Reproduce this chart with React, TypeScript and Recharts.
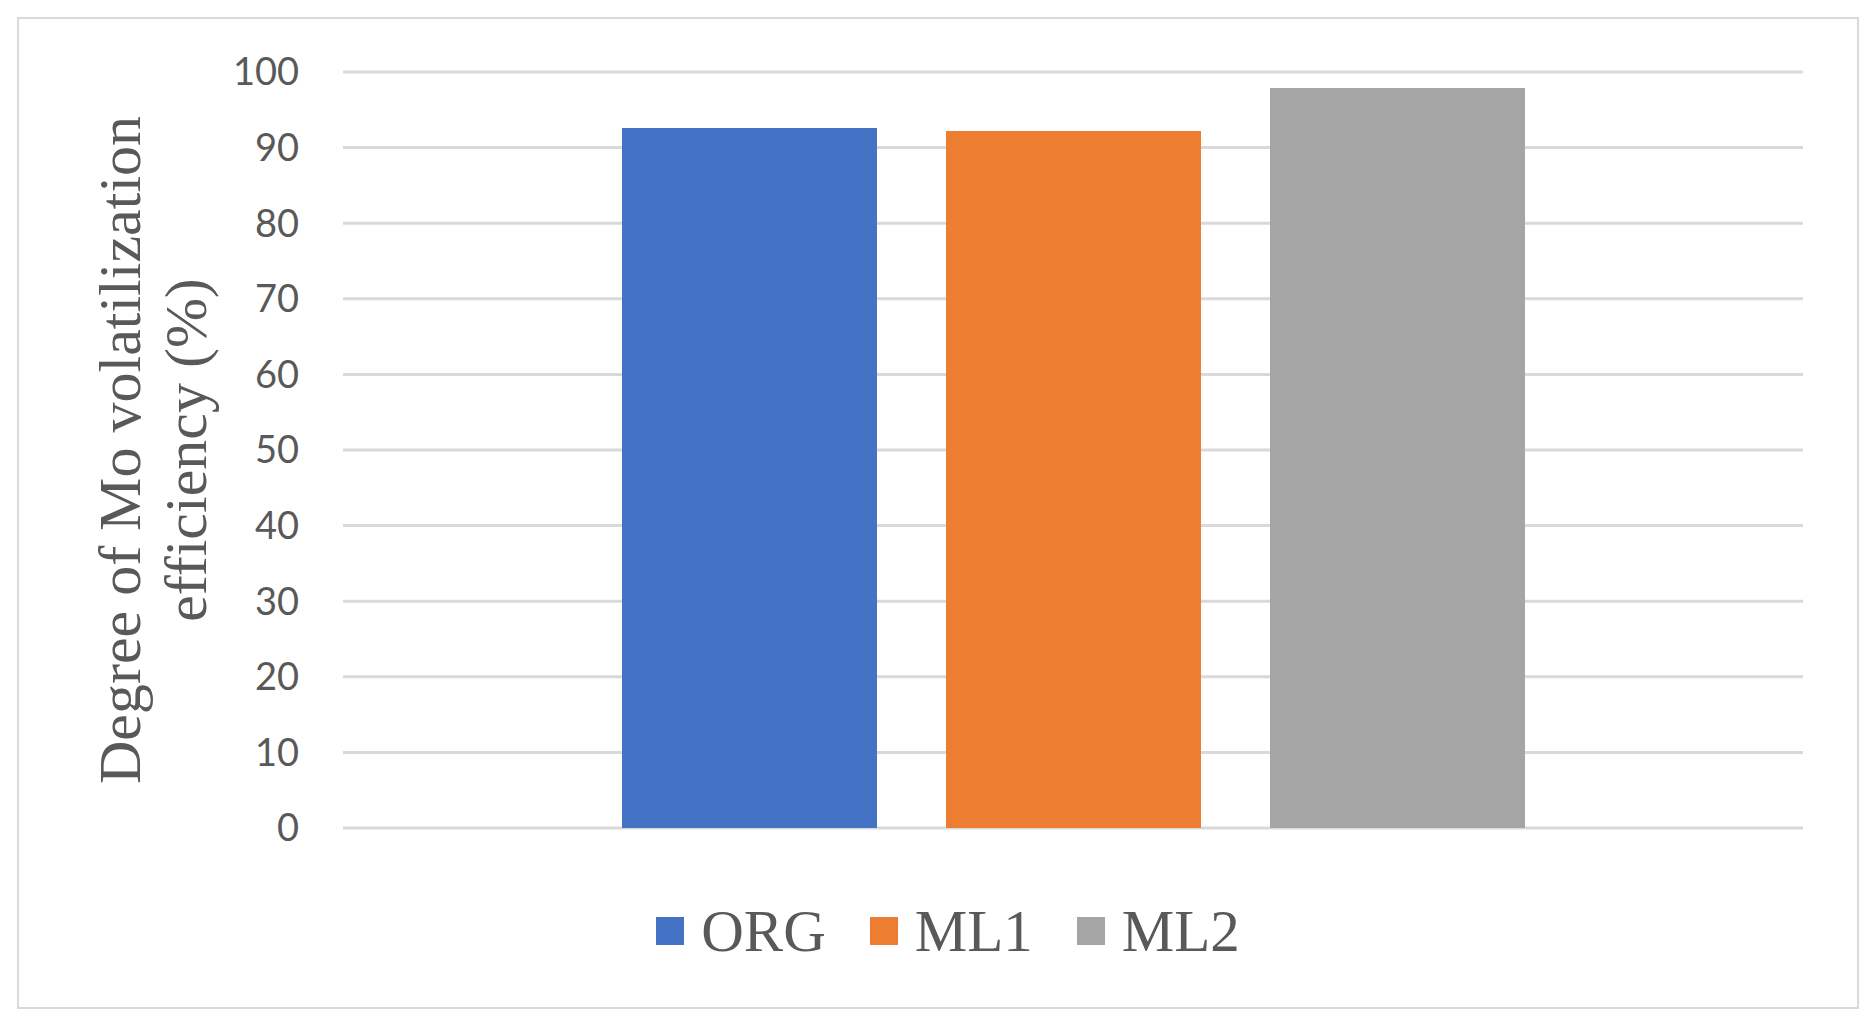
import React from 'react'
import { BarChart, Bar, XAxis, YAxis, CartesianGrid, Legend } from 'recharts'

const categories = ['']
const seriesNames = ['ORG', 'ML1', 'ML2']
const seriesValues = [92.6, 92.2, 97.9]
const seriesColors = ['#4472c4', '#ed7d31', '#a5a5a5']
const yTicks = [0, 10, 20, 30, 40, 50, 60, 70, 80, 90, 100]
const yLabelLines = ['Degree of Mo volatilization', 'efficiency (%)']

const data = categories.map((name) => {
  const row: Record<string, string | number> = { name }
  seriesNames.forEach((s, i) => { row[s] = seriesValues[i] })
  return row
})

const serif = '"Liberation Serif", "Times New Roman", serif'
const textColor = '#595959'

function YLabel(props: any) {
  const vb = props.viewBox || {}
  const cy = vb.y + vb.height / 2
  const xs = [112, 178]
  return (
    <g>
      {yLabelLines.map((line, i) => (
        <text key={i} x={xs[i]} y={cy} transform={`rotate(-90 ${xs[i]} ${cy})`}
          textAnchor="middle" dominantBaseline="central"
          style={{ fontFamily: serif, fontSize: 60, fill: textColor }}>
          {line}
        </text>
      ))}
    </g>
  )
}

function LegendContent() {
  return (
    <div style={{ display: 'flex', justifyContent: 'center', alignItems: 'center', height: 60, paddingLeft: 20 }}>
      {seriesNames.map((s, i) => (
        <div key={s} style={{ display: 'flex', alignItems: 'center', marginLeft: i === 0 ? 0 : 44 }}>
          <span style={{ width: 28, height: 28, background: seriesColors[i], display: 'inline-block', marginRight: 17 }} />
          <span style={{ fontFamily: serif, fontSize: 59, color: textColor, lineHeight: '60px' }}>{s}</span>
        </div>
      ))}
    </div>
  )
}

export default function App() {
  return (
    <div style={{ position: 'relative', width: 1860, height: 1010 }}>
      <div style={{ position: 'absolute', left: 9, top: 9, width: 1842, height: 992, border: '2px solid #d9d9d9', boxSizing: 'border-box' }} />
      <div style={{ position: 'absolute', left: 0, top: 0 }}>
        <BarChart width={1860} height={1010} data={data}
          margin={{ top: 64, right: 65, left: 0, bottom: 57 }}
          barCategoryGap={279} barGap={69}>
          <CartesianGrid vertical={false} stroke="#d9d9d9" strokeWidth={3} />
          <XAxis dataKey="name" tick={false} axisLine={false} tickLine={false} height={73} />
          <YAxis width={335} domain={[0, 100]} ticks={yTicks} interval={0}
            axisLine={false} tickLine={false} tickMargin={38}
            tick={{ fontSize: 38, fill: textColor, fontFamily: 'Lato' }}
            label={<YLabel />} />
          <Legend verticalAlign="bottom" content={<LegendContent />} wrapperStyle={{ left: 0, width: 1860 }} />
          {seriesNames.map((s, i) => (
            <Bar key={s} dataKey={s} fill={seriesColors[i]} isAnimationActive={false} />
          ))}
        </BarChart>
      </div>
    </div>
  )
}
